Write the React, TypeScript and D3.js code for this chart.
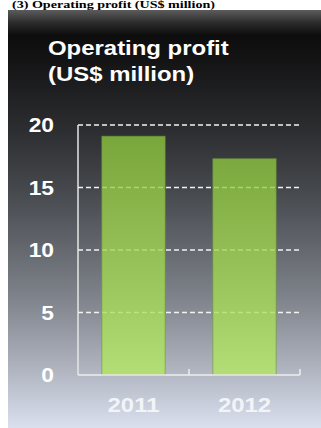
import React from "react";
import * as d3 from "d3";

const categories = ["2011", "2012"];
const values = [19.1, 17.3];
const yTicks = [0, 5, 10, 15, 20];
const heading = "(3) Operating profit (US$ million)";
const titleLines = ["Operating profit", "(US$ million)"];

const W = 321;
const H = 428;
const SX = 1.14;

export default function App() {
  const x = d3
    .scaleBand<string>()
    .domain(categories)
    .range([78, 300])
    .paddingInner(0.43)
    .paddingOuter(0.215);
  const y = d3.scaleLinear().domain([0, 20]).range([375, 125]);
  const step = x.step();
  const bw = x.bandwidth();
  const half = (step * 0.43) / 2;

  const bgStops: [number, string][] = [
    [0, "#5c5c5c"],
    [0.03, "#2c2c2c"],
    [0.06, "#0d0d0d"],
    [0.12, "#141415"],
    [0.29, "#2d2e31"],
    [0.45, "#494c51"],
    [0.69, "#7f838b"],
    [0.85, "#acb1bc"],
    [1, "#dae0ee"],
  ];

  return (
    <svg
      width={W}
      height={H}
      style={{ position: "absolute", left: 0, top: 0, background: "#fff" }}
      fontFamily="'Liberation Sans', Arial, sans-serif"
    >
      <defs>
        <linearGradient id="bg" x1="0" y1="0" x2="0" y2="1">
          {bgStops.map(([o, c], i) => (
            <stop key={i} offset={o} stopColor={c} />
          ))}
        </linearGradient>
        <linearGradient id="bar" x1="0" y1="0" x2="0" y2="1">
          <stop offset="0" stopColor="#8fc83f" />
          <stop offset="1" stopColor="#b4e860" />
        </linearGradient>
      </defs>
      <text
        x={12}
        y={7.5}
        fontFamily="'Liberation Serif', 'Times New Roman', serif"
        fontWeight="bold"
        fontSize={10}
        fill="#000"
        textLength={203}
        lengthAdjust="spacingAndGlyphs"
      >
        {heading}
      </text>
      <rect x={8} y={10} width={W - 8} height={H - 10} fill="url(#bg)" />
      {titleLines.map((t, i) => (
        <text
          key={t}
          transform={`translate(48,${55 + i * 26}) scale(${SX},1)`}
          fill="#fff"
          fontWeight="bold"
          fontSize={21}
        >
          {t}
        </text>
      ))}
      {yTicks
        .filter((t) => t > 0)
        .map((t) => (
          <line
            key={t}
            x1={78}
            x2={300}
            y1={y(t)}
            y2={y(t)}
            stroke="#f2f2f2"
            strokeWidth={1.6}
            strokeDasharray="5,3"
          />
        ))}
      {categories.map((c, i) => (
        <rect
          key={c}
          x={x(c)}
          y={y(values[i])}
          width={bw}
          height={y(0) - y(values[i])}
          fill="url(#bar)"
          fillOpacity={0.78}
          stroke="#6d9836"
          strokeOpacity={0.6}
          strokeWidth={1}
        />
      ))}
      <line x1={78} x2={78} y1={y(20)} y2={y(0)} stroke="#e6e6e6" strokeWidth={1.5} />
      <line x1={78} x2={300} y1={y(0)} y2={y(0)} stroke="#eeeeee" strokeWidth={1.5} />
      {categories.map((c) => (
        <line
          key={c}
          x1={(x(c) ?? 0) + bw + half}
          x2={(x(c) ?? 0) + bw + half}
          y1={y(0)}
          y2={y(0) - 6}
          stroke="#eeeeee"
          strokeWidth={1.5}
        />
      ))}
      {yTicks.map((t) => (
        <text
          key={t}
          transform={`translate(54,${y(t) + 7}) scale(${SX},1)`}
          textAnchor="end"
          fill="#fff"
          fontWeight="bold"
          fontSize={20}
        >
          {t}
        </text>
      ))}
      {categories.map((c) => (
        <text
          key={c}
          transform={`translate(${(x(c) ?? 0) + bw / 2},412) scale(${SX},1)`}
          textAnchor="middle"
          fill="#f2f4f8"
          fontWeight="bold"
          fontSize={21}
        >
          {c}
        </text>
      ))}
    </svg>
  );
}
